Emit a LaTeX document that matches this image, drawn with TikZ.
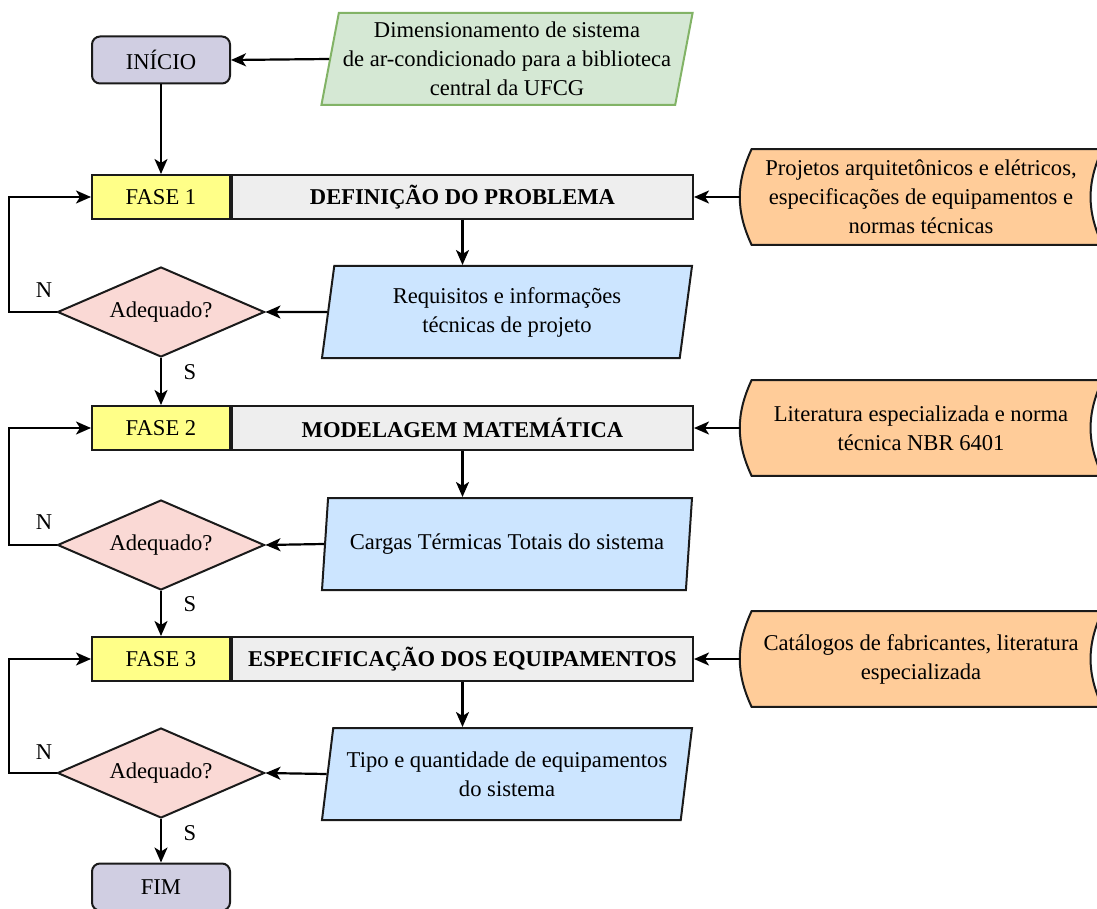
\documentclass[tikz,border=0pt]{standalone}
\usepackage{fontspec}
\setmainfont{Liberation Serif}
\usetikzlibrary{positioning, arrows.meta, shapes.geometric, backgrounds}

\definecolor{lilas}{HTML}{D0CEE2}
\definecolor{verde}{HTML}{D5E8D4}
\definecolor{verdeborda}{HTML}{82B366}
\definecolor{amarelo}{HTML}{FFFF88}
\definecolor{cinza}{HTML}{EEEEEE}
\definecolor{azul}{HTML}{CCE5FF}
\definecolor{rosa}{HTML}{FAD9D5}
\definecolor{laranja}{HTML}{FFCC99}
\definecolor{borda}{HTML}{1A1A1A}

\newcommand{\fonte}{\fontsize{11.3}{14.5}\selectfont}

\tikzset{
  caixa/.style={draw=borda, line width=1pt, font=\fonte, align=center, inner sep=2pt},
  terminal/.style={caixa, rounded corners=4pt, fill=lilas, minimum width=69pt, minimum height=23.5pt},
  fase/.style={caixa, fill=amarelo, minimum width=69pt, minimum height=22pt},
  titulo/.style={caixa, fill=cinza, minimum width=230.5pt, minimum height=22pt, font=\fonte\bfseries},
  saida/.style={caixa, trapezium, trapezium left angle=78, trapezium right angle=102,
    trapezium stretches body, fill=azul, minimum width=185pt, minimum height=46pt},
  decisao/.style={caixa, diamond, aspect=2.3, fill=rosa, minimum width=103.5pt, minimum height=45pt, inner sep=0pt},
  dados/.style={font=\fonte, align=center, minimum width=181pt, minimum height=47.5pt},
  dadosborda/.style={draw=borda, line width=1pt, fill=laranja},
  seta/.style={line width=1.1pt, -{Stealth[length=7.5pt, width=6.5pt, inset=2pt]}},
  rotulo/.style={font=\fonte}
}

\begin{document}
\begin{tikzpicture}[x=0.5pt, y=-0.5pt]
\useasboundingbox (0,0) rectangle (1097,909);
\clip (0,0) rectangle (1097,909);

% inicio
\node[terminal] (inicio) at (161,60) {INÍCIO};
\node[saida, fill=verde, draw=verdeborda] (entrada) at (507,59) {Dimensionamento de sistema\\de ar-condicionado para a biblioteca\\central da UFCG};

% fase 1
\node[fase] (f1) at (161,197) {FASE 1};
\node[titulo, right=0pt of f1] (t1) {DEFINIÇÃO DO PROBLEMA};
\node[dados] (d1) at (921,197) {Projetos arquitetônicos e elétricos,\\especificações de equipamentos e\\normas técnicas};
\node[saida] (p1) at (507,312) {Requisitos e informações\\técnicas de projeto};
\node[decisao] (a1) at (161,312) {Adequado?};
\node[rotulo] (n1) at (44,290) {N};
\node[rotulo] (s1) at (190,372) {S};

% fase 2
\node[fase] (f2) at (161,428) {FASE 2};
\node[titulo, right=0pt of f2] (t2) {MODELAGEM MATEMÁTICA};
\node[dados] (d2) at (921,428) {Literatura especializada e norma\\técnica NBR 6401};
\node[saida] (p2) at (507,544) {Cargas Térmicas Totais do sistema};
\node[decisao] (a2) at (161,545) {Adequado?};
\node[rotulo] (n2) at (44,522) {N};
\node[rotulo] (s2) at (190,604) {S};

% fase 3
\node[fase] (f3) at (161,659) {FASE 3};
\node[titulo, right=0pt of f3] (t3) {ESPECIFICAÇÃO DOS EQUIPAMENTOS};
\node[dados] (d3) at (921,659) {Catálogos de fabricantes, literatura\\especializada};
\node[saida] (p3) at (507,774) {Tipo e quantidade de equipamentos\\do sistema};
\node[decisao] (a3) at (161,773) {Adequado?};
\node[rotulo] (n3) at (44,752) {N};
\node[rotulo] (s3) at (190,833) {S};

% fim
\node[terminal] (fim) at (161,887) {FIM};

% contorno das fontes de dados
\begin{scope}[on background layer]
\foreach \d in {d1,d2,d3}
  \filldraw[dadosborda] ([xshift=6pt]\d.north west) -- (\d.north east)
    to[bend right=25] (\d.south east) -- ([xshift=6pt]\d.south west)
    to[bend left=25] ([xshift=6pt]\d.north west) -- cycle;
\end{scope}

% conexoes
\draw[seta] (entrada.west) -- (inicio.east);
\draw[seta] (inicio.south) -- (f1.north);
\foreach \i/\j in {1/2,2/3} {
  \draw[seta] (a\i.south) -- (f\j.north);
}
\foreach \i in {1,2,3} {
  \draw[seta] (d\i.west) -- (t\i.east);
  \draw[seta] (t\i.south) -- (t\i.south |- p\i.north);
  \draw[seta] (p\i.west) -- (a\i.east);
  \draw[seta] (a\i.west) -- ++(-47.5,0) |- (f\i.west);
}
\draw[seta] (a3.south) -- (fim.north);
\end{tikzpicture}
\end{document}
